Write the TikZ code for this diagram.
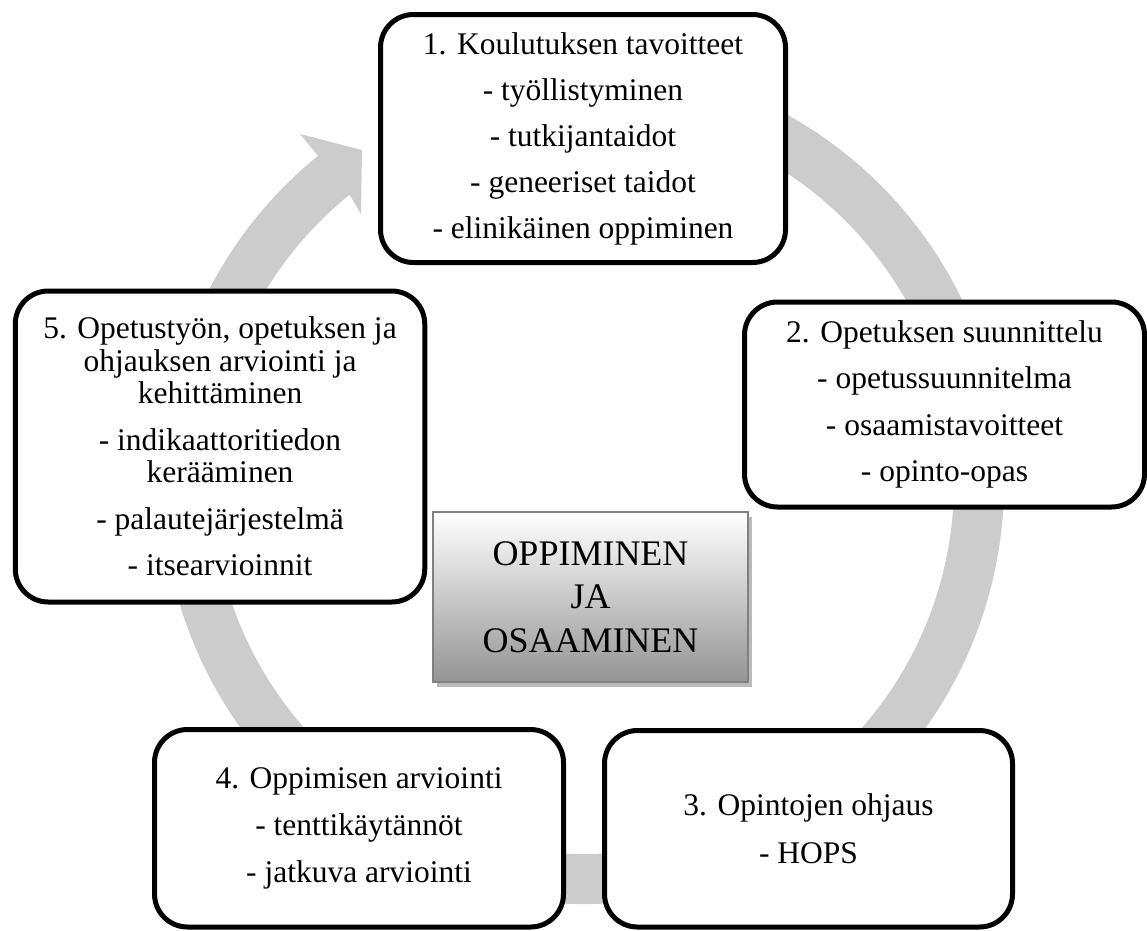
\documentclass[tikz,border=0pt]{standalone}
\usepackage{fontspec}
\setmainfont{Liberation Serif}
\begin{document}
\begin{tikzpicture}[x=1pt,y=-1pt]
\tikzset{
  stage/.style={draw=black, line width=5pt, rounded corners=33pt, fill=white,
    inner sep=0pt, align=center, font=\fontsize{31.5}{32.6}\selectfont},
  ringfill/.style={fill=black!20},
  core/.style={draw=black!50, line width=2pt, top color=white, bottom color=black!42,
    inner sep=0pt, align=center, font=\fontsize{36}{43.5}\selectfont},
  coreshadow/.style={fill=black!27}
}
\useasboundingbox (0,0) rectangle (1147,930);
\coordinate (c) at (583,483);
% circular arrow ring
\path[ringfill] (656.1,68.4) arc[start angle=-80, end angle=231, radius=421]
  -- (300,134) -- (362,150) -- (361,214) -- (349.5,194.7)
  arc[start angle=231, end angle=-80, radius=371] -- cycle;
% stages
\node[stage, minimum width=405pt, minimum height=248pt] (k1) at (583,138.5)
  {1. Koulutuksen tavoitteet\\[13.4pt]- työllistyminen\\[13.4pt]- tutkijantaidot\\[13.4pt]- geneeriset taidot\\[13.4pt]- elinikäinen oppiminen};
\node[stage, minimum width=400pt, minimum height=205pt] (k2) at (944.5,404.5)
  {2. Opetuksen suunnittelu\\[13.9pt]- opetussuunnitelma\\[13.9pt]- osaamistavoitteet\\[13.9pt]- opinto-opas};
\node[stage, minimum width=408pt, minimum height=196.5pt] (k3) at (808.5,828.75)
  {3. Opintojen ohjaus\\[15pt]- HOPS};
\node[stage, minimum width=409pt, minimum height=197.5pt] (k4) at (359,828.25)
  {4. Oppimisen arviointi\\[14.5pt]- tenttikäytännöt\\[14.5pt]- jatkuva arviointi};
\node[stage, minimum width=409.5pt, minimum height=311pt] (k5) at (220,446.5)
  {5. Opetustyön, opetuksen ja\\ohjauksen arviointi ja\\kehittäminen\\[13.9pt]- indikaattoritiedon\\kerääminen\\[13.9pt]- palautejärjestelmä\\[13.9pt]- itsearvioinnit};
% centre
\fill[coreshadow] (437,517) rectangle (752,687);
\node[core, minimum width=315pt, minimum height=170pt] (core) at (590.5,597)
  {OPPIMINEN\\JA\\OSAAMINEN};
\end{tikzpicture}
\end{document}
